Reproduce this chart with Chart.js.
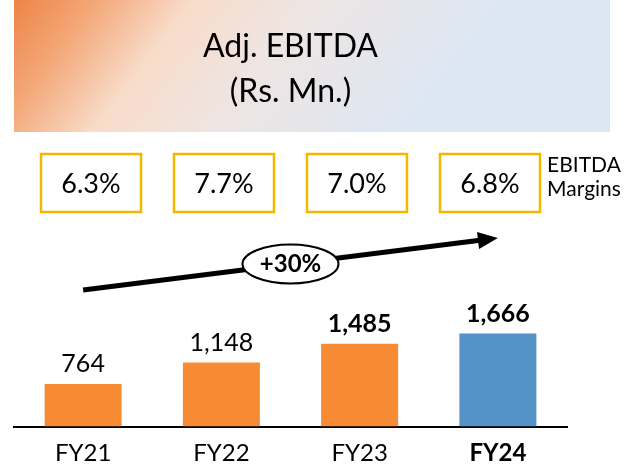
<!DOCTYPE html>
<html>
<head>
<meta charset="utf-8">
<script src="https://cdn.jsdelivr.net/npm/chart.js@4.4.1/dist/chart.umd.min.js"></script>
<style>
  html, body { margin: 0; padding: 0; background: #ffffff; }
  #wrap { width: 625px; height: 468px; }
</style>
</head>
<body>
<div id="wrap"><canvas id="c" width="625" height="468"></canvas></div>
<script>
// Adjusted EBITDA by fiscal year (Rs. Mn.) with EBITDA margins
const categories = ['FY21', 'FY22', 'FY23', 'FY24'];
const ebitda = [764, 1148, 1485, 1666];
const margins = [6.3, 7.7, 7.0, 6.8];
const growthLabel = '+30%';
const titleLines = ['Adj. EBITDA', '(Rs. Mn.)'];
const marginCaption = ['EBITDA', 'Margins'];

const FONT = 'Lato, "Open Sans", sans-serif';
const ORANGE = '#F68B33';
const BLUE = '#5592C8';
const GOLD = '#F2B700';
const last = categories.length - 1;

function font(size, bold) {
  return (bold ? 'bold ' : '') + size + 'px ' + FONT;
}

const decor = {
  id: 'decor',
  beforeDraw(chart) {
    const ctx = chart.ctx;
    const area = chart.chartArea;
    const midX = (area.left + area.right) / 2;
    ctx.save();
    // banner with warm-to-cool gradient
    const g = ctx.createLinearGradient(14, 0, 330, 240);
    g.addColorStop(0, '#EE8446');
    g.addColorStop(0.16, '#F3A676');
    g.addColorStop(0.36, '#F8DCCA');
    g.addColorStop(0.6, '#EEE5E3');
    g.addColorStop(1, '#DCE7F4');
    ctx.fillStyle = g;
    ctx.fillRect(14, 0, 596, 132);
    ctx.fillStyle = '#000';
    ctx.textAlign = 'center';
    ctx.textBaseline = 'alphabetic';
    ctx.font = font(32, false);
    ctx.fillText(titleLines[0], midX, 57);
    ctx.fillText(titleLines[1], midX, 102);
    ctx.restore();
  },
  afterDraw(chart) {
    const ctx = chart.ctx;
    const area = chart.chartArea;
    const xs = chart.scales.x;
    const midX = (area.left + area.right) / 2;
    ctx.save();

    // margin boxes
    for (let i = 0; i < margins.length; i++) {
      const cx = midX + (xs.getPixelForValue(i) - midX) * 0.962;
      const w = 100, h = 58, top = 154;
      ctx.fillStyle = '#fff';
      ctx.fillRect(cx - w / 2, top, w, h);
      ctx.strokeStyle = GOLD;
      ctx.lineWidth = 2.5;
      ctx.strokeRect(cx - w / 2, top, w, h);
      ctx.fillStyle = '#000';
      ctx.font = font(27, false);
      ctx.textAlign = 'center';
      ctx.textBaseline = 'alphabetic';
      ctx.fillText(margins[i].toFixed(1) + '%', cx, top + h / 2 + 9.5);
    }

    // caption beside the margin boxes
    ctx.font = font(21, false);
    ctx.fillText(marginCaption[0], 584, 172);
    ctx.fillText(marginCaption[1], 584, 196);

    // growth arrow from first to last year
    const x0 = xs.getPixelForValue(0), y0 = 290;
    const x1 = xs.getPixelForValue(last), y1 = 238;
    const ang = Math.atan2(y1 - y0, x1 - x0);
    const headLen = 20, headHalf = 8.5;
    const bx = x1 - headLen * Math.cos(ang), by = y1 - headLen * Math.sin(ang);
    ctx.strokeStyle = '#000';
    ctx.lineWidth = 5;
    ctx.lineCap = 'butt';
    ctx.beginPath();
    ctx.moveTo(x0, y0);
    ctx.lineTo(bx + 2 * Math.cos(ang), by + 2 * Math.sin(ang));
    ctx.stroke();
    ctx.fillStyle = '#000';
    ctx.beginPath();
    ctx.moveTo(x1, y1);
    ctx.lineTo(bx - headHalf * Math.sin(ang), by + headHalf * Math.cos(ang));
    ctx.lineTo(bx + headHalf * Math.sin(ang), by - headHalf * Math.cos(ang));
    ctx.closePath();
    ctx.fill();

    // growth badge on the arrow
    const ex = midX;
    const ey = y0 + (ex - x0) * Math.tan(ang);
    ctx.beginPath();
    ctx.ellipse(ex, ey, 48, 19.5, 0, 0, Math.PI * 2);
    ctx.fillStyle = '#fff';
    ctx.fill();
    ctx.lineWidth = 2;
    ctx.strokeStyle = '#000';
    ctx.stroke();
    ctx.fillStyle = '#000';
    ctx.font = font(24, true);
    ctx.textAlign = 'center';
    ctx.fillText(growthLabel, ex, ey + 8);
    ctx.restore();
  },
  afterDatasetsDraw(chart) {
    const ctx = chart.ctx;
    const bars = chart.getDatasetMeta(0).data;
    ctx.save();
    ctx.fillStyle = '#000';
    ctx.textAlign = 'center';
    ctx.textBaseline = 'alphabetic';
    bars.forEach((bar, i) => {
      ctx.font = font(25, i >= 2);
      ctx.fillText(ebitda[i].toLocaleString('en-US'), bar.x, bar.y - 11.5);
    });
    ctx.restore();
  }
};

function build() {
  new Chart(document.getElementById('c'), {
    type: 'bar',
    data: {
      labels: categories,
      datasets: [{
        data: ebitda,
        backgroundColor: c => (c.dataIndex === last ? BLUE : ORANGE),
        borderWidth: 0,
        barPercentage: 0.557,
        categoryPercentage: 1
      }]
    },
    options: {
      responsive: false,
      devicePixelRatio: 1,
      animation: false,
      events: [],
      layout: { padding: { left: 14, right: 58, top: 315, bottom: 0 } },
      plugins: {
        legend: { display: false },
        tooltip: { enabled: false },
        title: { display: false }
      },
      scales: {
        x: {
          grid: { display: false, drawTicks: false },
          border: { display: true, color: '#000', width: 2 },
          ticks: {
            color: '#000',
            padding: 12,
            font: c => ({ family: FONT, size: 24, weight: c.index === last ? 'bold' : 'normal' })
          },
          afterFit(s) { s.height = 41.5; }
        },
        y: { display: false, min: 0, max: 2000 }
      }
    },
    plugins: [decor]
  });
}

Promise.all([
  document.fonts.load('22px Lato'),
  document.fonts.load('bold 22px Lato')
]).then(build, build);
</script>
</body>
</html>
